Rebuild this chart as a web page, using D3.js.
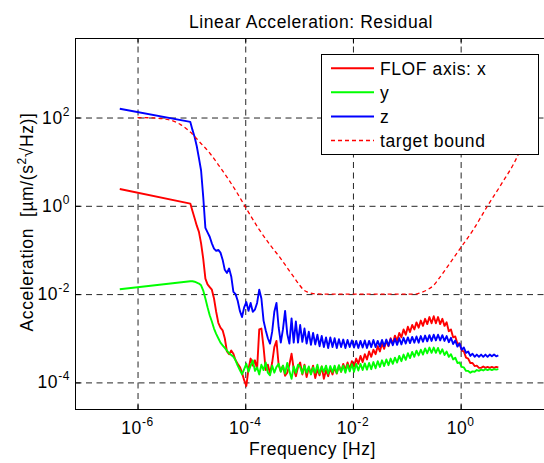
<!DOCTYPE html>
<html><head><meta charset="utf-8">
<script src="https://cdn.jsdelivr.net/npm/d3@7"></script>
<style>
body{margin:0;background:#fff;}
svg{display:block;font-family:"Liberation Sans",Arial,Helvetica,sans-serif;}
</style></head><body>
<svg id="chart" width="544" height="463"></svg>
<script>
// ---- data (log10 values) ----
const freqExp = [-6.33,
-5.02,-4.98,-4.94,-4.90,-4.86,-4.82,-4.78,-4.74,-4.70,-4.66,
-4.62,-4.58,-4.54,-4.50,-4.46,-4.42,-4.38,-4.34,-4.30,-4.26,
-4.22,-4.18,-4.14,-4.10,-4.06,-4.02,-3.98,-3.94,-3.90,-3.86,
-3.82,-3.78,-3.74,-3.70,-3.66,-3.62,-3.58,-3.54,-3.50,-3.46,
-3.42,-3.38,-3.34,-3.30,-3.26,-3.22,-3.18,-3.14,-3.10,-3.06,
-3.02,-2.98,-2.94,-2.90,-2.86,-2.82,-2.78,-2.74,-2.70,-2.66,
-2.62,-2.58,-2.54,-2.50,-2.46,-2.42,-2.38,-2.34,-2.30,-2.26,
-2.22,-2.18,-2.14,-2.10,-2.06,-2.02,-1.98,-1.94,-1.90,-1.86,
-1.82,-1.78,-1.74,-1.70,-1.66,-1.62,-1.58,-1.54,-1.50,-1.46,
-1.42,-1.38,-1.34,-1.30,-1.26,-1.22,-1.18,-1.14,-1.10,-1.06,
-1.02,-0.98,-0.94,-0.90,-0.86,-0.82,-0.78,-0.74,-0.70,-0.66,
-0.62,-0.58,-0.54,-0.50,-0.46,-0.42,-0.38,-0.34,-0.30,-0.26,
-0.22,-0.18,-0.14,-0.10,-0.06,-0.02,0.02,0.06,0.10,0.14,
0.18,0.22,0.26,0.30,0.34,0.38,0.42,0.46,0.50,0.54,
0.58,0.62,0.66,0.70];

const xAccExp = [0.38,
0.05,-0.12,-0.28,-0.45,-0.59,-0.85,-1.20,-1.65,-1.78,-1.84,
-1.90,-2.10,-2.40,-2.65,-2.76,-2.82,-3.00,-3.30,-3.36,-3.28,
-3.35,-3.50,-3.58,-3.65,-3.78,-3.95,-4.08,-3.70,-3.46,-3.62,
-3.50,-3.70,-2.80,-2.78,-3.20,-3.72,-3.60,-3.80,-3.55,-3.20,
-3.06,-3.60,-3.75,-3.62,-3.85,-3.78,-3.60,-3.35,-3.70,-3.86,
-3.65,-3.55,-3.82,-3.60,-3.88,-3.66,-3.80,-3.62,-3.90,-3.70,
-3.84,-3.64,-3.92,-3.72,-3.86,-3.68,-3.82,-3.66,-3.80,-3.62,
-3.76,-3.58,-3.72,-3.55,-3.70,-3.52,-3.64,-3.46,-3.58,-3.40,
-3.54,-3.36,-3.48,-3.30,-3.42,-3.26,-3.36,-3.18,-3.30,-3.12,
-3.24,-3.06,-3.18,-3.00,-3.12,-2.94,-3.06,-2.88,-2.98,-2.80,
-2.92,-2.74,-2.86,-2.70,-2.80,-2.64,-2.76,-2.60,-2.72,-2.56,
-2.68,-2.52,-2.66,-2.50,-2.66,-2.52,-2.68,-2.56,-2.72,-2.64,
-2.84,-2.80,-2.98,-2.96,-3.12,-3.12,-3.28,-3.30,-3.44,-3.46,
-3.56,-3.56,-3.63,-3.62,-3.67,-3.67,-3.64,-3.67,-3.65,-3.67,
-3.65,-3.67,-3.65,-3.66];

const yAccExp = [-1.89,
-1.71,-1.71,-1.72,-1.74,-1.76,-1.80,-1.92,-2.10,-2.30,-2.48,
-2.62,-2.78,-2.90,-3.00,-3.10,-3.16,-3.22,-3.28,-3.34,-3.38,
-3.42,-3.50,-3.62,-3.72,-3.82,-3.70,-3.58,-3.76,-3.62,-3.50,
-3.74,-3.66,-3.82,-3.60,-3.72,-3.55,-3.78,-3.84,-3.62,-3.78,
-3.65,-3.58,-3.76,-3.62,-3.80,-3.56,-3.74,-3.92,-3.64,-3.78,
-3.60,-3.65,-3.80,-3.62,-3.78,-3.64,-3.82,-3.66,-3.78,-3.60,
-3.80,-3.64,-3.76,-3.62,-3.80,-3.63,-3.77,-3.62,-3.79,-3.61,
-3.76,-3.62,-3.78,-3.60,-3.75,-3.59,-3.76,-3.58,-3.73,-3.58,
-3.72,-3.57,-3.71,-3.56,-3.70,-3.54,-3.68,-3.52,-3.65,-3.50,
-3.63,-3.48,-3.61,-3.46,-3.58,-3.44,-3.55,-3.40,-3.52,-3.37,
-3.49,-3.34,-3.45,-3.31,-3.42,-3.28,-3.39,-3.26,-3.37,-3.23,
-3.34,-3.21,-3.33,-3.21,-3.33,-3.22,-3.35,-3.25,-3.38,-3.30,
-3.42,-3.36,-3.48,-3.44,-3.56,-3.55,-3.65,-3.66,-3.74,-3.74,
-3.78,-3.75,-3.76,-3.72,-3.74,-3.71,-3.73,-3.70,-3.72,-3.70,
-3.72,-3.70,-3.71,-3.70];

const zAccExp = [2.20,
1.90,1.72,1.56,1.35,1.08,0.80,0.20,-0.50,-0.60,-0.70,
-0.85,-0.97,-1.02,-1.00,-1.06,-1.22,-1.45,-1.52,-1.42,-1.60,
-1.95,-2.00,-2.15,-2.38,-2.52,-2.30,-2.18,-2.38,-2.20,-2.40,
-2.35,-2.20,-1.90,-2.10,-2.60,-2.82,-3.00,-3.12,-2.85,-2.40,
-2.20,-2.75,-3.10,-2.80,-2.38,-2.90,-3.12,-2.55,-3.10,-2.62,
-3.10,-2.70,-3.08,-2.78,-3.12,-2.85,-3.15,-2.88,-3.14,-2.92,
-3.18,-2.95,-3.20,-2.98,-3.22,-2.98,-3.20,-3.00,-3.22,-3.02,
-3.20,-3.03,-3.22,-3.04,-3.20,-3.05,-3.21,-3.06,-3.22,-3.06,
-3.21,-3.05,-3.22,-3.06,-3.20,-3.04,-3.20,-3.06,-3.19,-3.04,
-3.18,-3.03,-3.17,-3.02,-3.16,-3.01,-3.15,-3.00,-3.14,-2.99,
-3.12,-2.98,-3.11,-2.97,-3.10,-2.96,-3.10,-2.95,-3.08,-2.94,
-3.07,-2.93,-3.06,-2.92,-3.05,-2.92,-3.05,-2.93,-3.06,-2.95,
-3.09,-2.99,-3.13,-3.05,-3.19,-3.12,-3.26,-3.21,-3.33,-3.30,
-3.40,-3.35,-3.42,-3.37,-3.42,-3.37,-3.42,-3.37,-3.42,-3.37,
-3.41,-3.37,-3.41,-3.39];

const boundFreqExp = [-6.00,-5.70,-5.39,-5.20,-5.02,-4.85,-4.65,-4.50,-4.34,-4.17,-4.01,-3.75,-3.53,-3.35,-3.20,-3.10,-3.00,-2.92,-2.83,-2.74,-2.50,-2.00,-1.50,-1.00,-0.85,-0.75,-0.63,-0.50,-0.38,-0.20,-0.01,0.23,0.50,0.75,1.05,1.40];
const boundAccExp = [2.00,1.99,1.94,1.84,1.67,1.45,1.18,0.93,0.65,0.33,0.00,-0.52,-0.90,-1.18,-1.44,-1.61,-1.78,-1.90,-1.96,-1.99,-2.00,-2.00,-2.00,-2.00,-2.00,-1.97,-1.91,-1.80,-1.61,-1.30,-0.97,-0.55,0.00,0.48,1.11,2.25];

const xTickExps = [-6, -4, -2, 0];
const yTickExps = [-4, -2, 0, 2];
const seriesNames = ["FLOF axis: x", "y", "z", "target bound"];
const seriesColors = ["#ff0000", "#00ff00", "#0000ff", "#ff0000"];
const titleText = "Linear Acceleration: Residual";
const xLabelText = "Frequency [Hz]";

// ---- layout ----
const W = 544, H = 463;
const L = 75.5, T = 38.5, B = 409.5, R = 548;
const FS = "17.5px", LS = "0.6px";

const x = d3.scaleLog().domain([Math.pow(10, -7.152), Math.pow(10, 1.622)]).range([L, R]);
const y = d3.scaleLog().domain([Math.pow(10, -4.614), Math.pow(10, 3.79)]).range([B, T]);
const p10 = e => Math.pow(10, e);

const svg = d3.select("#chart");
svg.append("rect").attr("width", W).attr("height", H).attr("fill", "#fff");
svg.append("defs").append("clipPath").attr("id", "clip")
  .append("rect").attr("x", L).attr("y", T).attr("width", R - L).attr("height", B - T);

const xTicks = xTickExps.map(p10), yTicks = yTickExps.map(p10);

// grid
const gx = svg.append("g").attr("transform", `translate(0,${B})`)
  .call(d3.axisBottom(x).tickValues(xTicks).tickSize(-(B - T)).tickFormat(() => ""));
const gy = svg.append("g").attr("transform", `translate(${L},0)`)
  .call(d3.axisLeft(y).tickValues(yTicks).tickSize(-(R - L)).tickFormat(() => ""));
[gx, gy].forEach(g => {
  g.select(".domain").remove();
  g.selectAll(".tick line").attr("stroke", "#262626").attr("stroke-dasharray", "6,4.5").attr("stroke-width", 1);
});

// inner tick marks
const tk = 5;
svg.append("g").attr("transform", `translate(0,${B})`)
  .call(d3.axisBottom(x).tickValues(xTicks).tickSize(-tk).tickFormat(() => ""))
  .call(g => g.select(".domain").remove());
svg.append("g").attr("transform", `translate(0,${T})`)
  .call(d3.axisTop(x).tickValues(xTicks).tickSize(-tk).tickFormat(() => ""))
  .call(g => g.select(".domain").remove());
svg.append("g").attr("transform", `translate(${L},0)`)
  .call(d3.axisLeft(y).tickValues(yTicks).tickSize(-tk).tickFormat(() => ""))
  .call(g => g.select(".domain").remove());
svg.selectAll(".tick line").filter(function(){ return !this.getAttribute("stroke-dasharray"); })
  .attr("stroke", "#000");

// series
const line = d3.line().x(d => x(p10(d[0]))).y(d => y(p10(d[1])));
const plot = svg.append("g").attr("clip-path", "url(#clip)");
const seriesData = [d3.zip(freqExp, xAccExp), d3.zip(freqExp, yAccExp), d3.zip(freqExp, zAccExp)];
seriesData.forEach((d, i) => {
  plot.append("path").datum(d).attr("d", line)
    .attr("fill", "none").attr("stroke", seriesColors[i]).attr("stroke-width", 1.9)
    .attr("stroke-linejoin", "round");
});
const boundLine = d3.line().x(d => x(p10(d[0]))).y(d => y(p10(d[1]))).curve(d3.curveMonotoneX);
plot.append("path").datum(d3.zip(boundFreqExp, boundAccExp)).attr("d", boundLine)
  .attr("fill", "none").attr("stroke", seriesColors[3]).attr("stroke-width", 1.3)
  .attr("stroke-dasharray", "4,3");

// frame
svg.append("rect").attr("x", L).attr("y", T).attr("width", R - L).attr("height", B - T)
  .attr("fill", "none").attr("stroke", "#000").attr("stroke-width", 1);

// tick labels
const txt = svg.append("g").attr("font-size", FS).attr("letter-spacing", LS).attr("fill", "#000");
xTickExps.forEach(e => {
  const t = txt.append("text").attr("x", x(p10(e))).attr("y", 434).attr("text-anchor", "middle");
  t.append("tspan").text("10");
  t.append("tspan").attr("dy", -8).attr("font-size", "12px").text(String(e));
});
yTickExps.forEach(e => {
  const t = txt.append("text").attr("x", 70).attr("y", y(p10(e)) + 6).attr("text-anchor", "end");
  t.append("tspan").text("10");
  t.append("tspan").attr("dy", -8).attr("font-size", "12px").text(String(e));
});

// title and axis labels
txt.append("text").attr("x", 311).attr("y", 27.5).attr("text-anchor", "middle").text(titleText);
txt.append("text").attr("x", 312.5).attr("y", 455).attr("text-anchor", "middle").text(xLabelText);
const yl = txt.append("text").attr("transform", "translate(33,222) rotate(-90)")
  .attr("text-anchor", "middle").style("white-space", "pre");
yl.append("tspan").text("Acceleration  [\u00b5m/(s");
yl.append("tspan").attr("dy", -7).attr("font-size", "12px").text("2");
yl.append("tspan").attr("dy", 7).text("\u221aHz)]");

// legend
const lg = svg.append("g");
lg.append("rect").attr("x", 321.5).attr("y", 54.5).attr("width", 217).attr("height", 100)
  .attr("fill", "#fff").attr("stroke", "#000").attr("stroke-width", 1);
const rowY = [68.3, 92.3, 116.5, 140.5];
seriesNames.forEach((n, i) => {
  lg.append("line").attr("x1", 331).attr("x2", 374).attr("y1", rowY[i]).attr("y2", rowY[i])
    .attr("stroke", seriesColors[i]).attr("stroke-width", i === 3 ? 1.3 : 1.9)
    .attr("stroke-dasharray", i === 3 ? "4,3" : null);
  lg.append("text").attr("x", 380).attr("y", rowY[i] + 6.5).attr("font-size", FS)
    .attr("letter-spacing", LS).text(n);
});
</script>
</body></html>
